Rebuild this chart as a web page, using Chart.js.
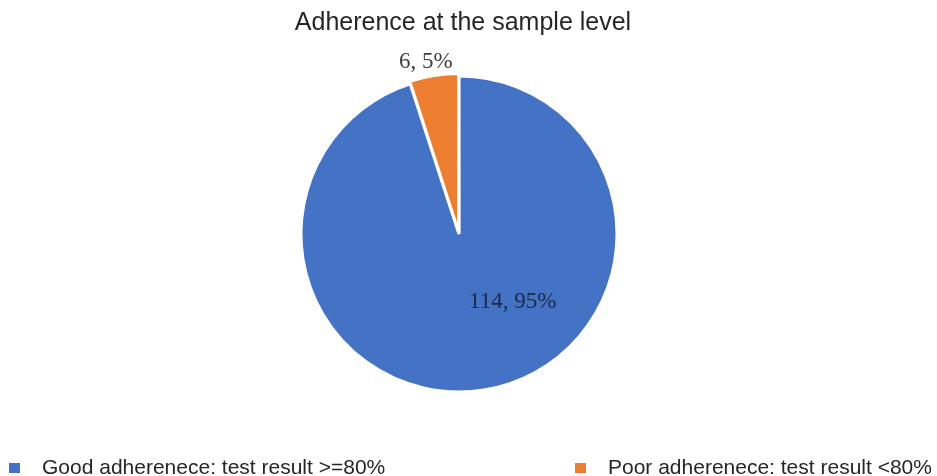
<!DOCTYPE html>
<html>
<head>
<meta charset="utf-8">
<script src="https://cdn.jsdelivr.net/npm/chart.js@4"></script>
<style>
  html, body { margin: 0; padding: 0; background: #fff; }
  #wrap { width: 937px; height: 476px; position: relative; }
</style>
</head>
<body>
<div id="wrap"><canvas id="chartAdherence"></canvas></div>
<script>
// ── Data ─────────────────────────────────────────────
const categories = ['Good adherenece: test result >=80%', 'Poor adherenece: test result <80%'];
const counts     = [114, 6];
const percents   = [95, 5];
const colors     = ['#4472C4', '#ED7D31'];
const chartTitle = 'Adherence at the sample level';

// title, value labels and legend drawn by hand (Excel-like layout)
const excelDecor = {
    id: 'excelDecor',
    afterDraw(chart) {
        const ctx = chart.ctx;
        const meta = chart.getDatasetMeta(0);
        ctx.save();

        // title
        ctx.fillStyle = '#262626';
        ctx.font = '25px "Liberation Sans", Arial, sans-serif';
        ctx.textAlign = 'center';
        ctx.textBaseline = 'middle';
        ctx.fillText(chartTitle, 463, 23);

        // data labels
        ctx.font = '23px "Liberation Serif", "Times New Roman", serif';
        meta.data.forEach((arc, i) => {
            const txt = counts[i] + ', ' + percents[i] + '%';
            const r = arc.outerRadius;
            let x, y;
            if (i === 1) {
                const mid = (arc.startAngle + arc.endAngle) / 2;
                x = arc.x + Math.cos(mid) * (r + 16) - 6;
                y = arc.y + Math.sin(mid) * (r + 16);
                ctx.fillStyle = '#404040';
            } else {
                x = arc.x + r * 0.34;
                y = arc.y + r * 0.43;
                ctx.fillStyle = '#1f2a44';
            }
            ctx.fillText(txt, x, y);
        });

        // legend
        ctx.font = '21px "Liberation Sans", Arial, sans-serif';
        ctx.textAlign = 'left';
        const legendX = [9, 575];
        categories.forEach((c, i) => {
            ctx.fillStyle = colors[i];
            ctx.fillRect(legendX[i], 463, 11, 10);
            ctx.fillStyle = '#262626';
            ctx.fillText(c, legendX[i] + 33, 468);
        });
        ctx.restore();
    }
};

new Chart(document.getElementById('chartAdherence').getContext('2d'), {
    type: 'pie',
    data: {
        labels: categories,
        datasets: [{
            data:            counts,
            backgroundColor: colors,
            borderColor:     '#fff',
            borderWidth:     3,
            offset:          [0, 6],
            radius:          158,
        }],
    },
    options: {
        responsive:          true,
        maintainAspectRatio: false,
        animation:           false,
        layout: { padding: { left: 0, right: 19, top: 60, bottom: 68 } },
        plugins: {
            legend:  { display: false },
            title:   { display: false },
            tooltip: { enabled: false },
        },
    },
    plugins: [excelDecor],
});
</script>
</body>
</html>
